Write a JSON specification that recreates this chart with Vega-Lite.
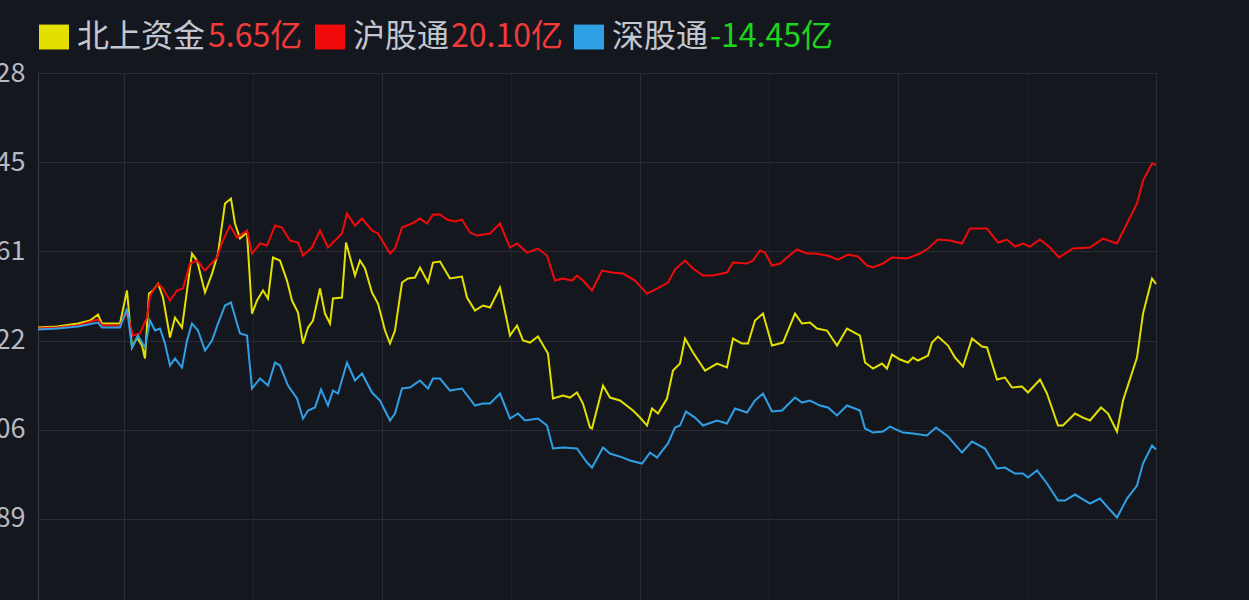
{
  "$schema": "https://vega.github.io/schema/vega-lite/v6.json",
  "width": 1118,
  "height": 527,
  "autosize": {"type": "none"},
  "padding": {"left": 38, "top": 73, "right": 93, "bottom": 0},
  "background": "#15171f",
  "config": {"view": {"stroke": null}, "font": "Noto Sans CJK SC"},
  "datasets": {
    "legend": [
      {"k": 0, "name": "北上资金", "label": "5.65亿", "val": 5.65},
      {"k": 1, "name": "沪股通", "label": "20.10亿", "val": 20.10},
      {"k": 2, "name": "深股通", "label": "-14.45亿", "val": -14.45}
    ],
    "flow": [
      {"s":"北上资金","t":0,"v":0.36},{"s":"北上资金","t":4.42,"v":0.49},{"s":"北上资金","t":9.3,"v":0.85},{"s":"北上资金","t":12.09,"v":1.21},
      {"s":"北上资金","t":13.95,"v":1.94},{"s":"北上资金","t":14.88,"v":0.85},{"s":"北上资金","t":19.07,"v":0.85},{"s":"北上资金","t":20.7,"v":4.86},
      {"s":"北上资金","t":21.86,"v":-2.06},{"s":"北上资金","t":23.02,"v":-0.85},{"s":"北上资金","t":24.19,"v":-1.82},{"s":"北上资金","t":24.88,"v":-3.4},
      {"s":"北上资金","t":25.81,"v":4.49},{"s":"北上资金","t":26.74,"v":4.86},{"s":"北上资金","t":27.91,"v":5.71},{"s":"北上资金","t":29.07,"v":4.01},
      {"s":"北上资金","t":30.7,"v":-0.85},{"s":"北上资金","t":31.86,"v":1.58},{"s":"北上资金","t":33.49,"v":0.36},{"s":"北上资金","t":34.65,"v":4.86},
      {"s":"北上资金","t":35.81,"v":9.35},{"s":"北上资金","t":36.98,"v":8.5},{"s":"北上资金","t":38.84,"v":4.62},{"s":"北上资金","t":40.47,"v":6.92},
      {"s":"北上资金","t":41.86,"v":9.35},{"s":"北上资金","t":43.49,"v":15.43},{"s":"北上资金","t":44.88,"v":16.03},{"s":"北上资金","t":45.81,"v":13.0},
      {"s":"北上资金","t":46.98,"v":11.17},{"s":"北上资金","t":48.6,"v":11.9},{"s":"北上资金","t":49.77,"v":2.06},{"s":"北上资金","t":50.93,"v":3.64},
      {"s":"北上资金","t":52.33,"v":4.86},{"s":"北上资金","t":53.49,"v":3.89},{"s":"北上资金","t":54.65,"v":8.87},{"s":"北上资金","t":56.28,"v":8.5},
      {"s":"北上资金","t":57.91,"v":6.07},{"s":"北上资金","t":59.07,"v":3.64},{"s":"北上资金","t":60.47,"v":2.19},{"s":"北上资金","t":61.63,"v":-1.58},
      {"s":"北上资金","t":62.79,"v":0.36},{"s":"北上资金","t":63.95,"v":1.21},{"s":"北上资金","t":65.58,"v":5.1},{"s":"北上资金","t":66.74,"v":2.06},
      {"s":"北上资金","t":67.91,"v":0.85},{"s":"北上资金","t":68.6,"v":3.89},{"s":"北上资金","t":70.7,"v":4.01},{"s":"北上资金","t":71.63,"v":10.69},
      {"s":"北上资金","t":73.72,"v":6.68},{"s":"北上资金","t":74.88,"v":8.5},{"s":"北上资金","t":76.05,"v":7.53},{"s":"北上资金","t":77.67,"v":4.62},
      {"s":"北上资金","t":79.07,"v":3.28},{"s":"北上资金","t":80.7,"v":0},{"s":"北上资金","t":81.86,"v":-1.58},{"s":"北上资金","t":83.02,"v":0},
      {"s":"北上资金","t":84.65,"v":5.83},{"s":"北上资金","t":86.05,"v":6.32},{"s":"北上资金","t":87.67,"v":6.44},{"s":"北上资金","t":88.84,"v":7.65},
      {"s":"北上资金","t":90.7,"v":5.83},{"s":"北上资金","t":91.86,"v":8.26},{"s":"北上资金","t":93.49,"v":8.38},{"s":"北上资金","t":95.81,"v":6.32},
      {"s":"北上资金","t":98.6,"v":6.56},{"s":"北上资金","t":99.77,"v":4.01},{"s":"北上资金","t":101.63,"v":2.43},{"s":"北上资金","t":103.49,"v":3.04},
      {"s":"北上资金","t":105.12,"v":2.79},{"s":"北上资金","t":107.44,"v":5.22},{"s":"北上资金","t":109.77,"v":-0.61},{"s":"北上资金","t":111.4,"v":0.61},
      {"s":"北上资金","t":112.79,"v":-1.21},{"s":"北上资金","t":114.42,"v":-1.46},{"s":"北上资金","t":116.28,"v":-0.73},{"s":"北上资金","t":118.6,"v":-2.79},
      {"s":"北上资金","t":119.77,"v":-8.26},{"s":"北上资金","t":122.09,"v":-7.89},{"s":"北上资金","t":123.72,"v":-8.14},{"s":"北上资金","t":125.35,"v":-7.53},
      {"s":"北上资金","t":126.74,"v":-8.87},{"s":"北上资金","t":128.37,"v":-11.78},{"s":"北上资金","t":128.84,"v":-11.9},{"s":"北上资金","t":131.4,"v":-6.68},
      {"s":"北上资金","t":133.02,"v":-8.14},{"s":"北上资金","t":135.35,"v":-8.5},{"s":"北上资金","t":138.37,"v":-9.72},{"s":"北上资金","t":140,"v":-10.57},
      {"s":"北上资金","t":141.63,"v":-11.54},{"s":"北上资金","t":142.79,"v":-9.47},{"s":"北上资金","t":144.19,"v":-10.08},{"s":"北上资金","t":146.28,"v":-8.26},
      {"s":"北上资金","t":147.67,"v":-4.86},{"s":"北上资金","t":149.3,"v":-4.01},{"s":"北上资金","t":150.47,"v":-0.97},{"s":"北上资金","t":152.33,"v":-2.67},
      {"s":"北上资金","t":155.12,"v":-4.86},{"s":"北上资金","t":157.91,"v":-4.01},{"s":"北上资金","t":160.23,"v":-4.49},{"s":"北上资金","t":161.63,"v":-0.97},
      {"s":"北上资金","t":163.72,"v":-1.58},{"s":"北上资金","t":165.12,"v":-1.58},{"s":"北上资金","t":166.74,"v":1.21},{"s":"北上资金","t":168.6,"v":2.06},
      {"s":"北上资金","t":170.7,"v":-1.82},{"s":"北上资金","t":173.26,"v":-1.46},{"s":"北上资金","t":176.05,"v":2.06},{"s":"北上资金","t":177.67,"v":0.85},
      {"s":"北上资金","t":179.53,"v":0.97},{"s":"北上资金","t":181.16,"v":0.24},{"s":"北上资金","t":183.49,"v":0},{"s":"北上资金","t":185.81,"v":-1.82},
      {"s":"北上资金","t":188.14,"v":0.24},{"s":"北上资金","t":191.16,"v":-0.61},{"s":"北上资金","t":192.33,"v":-3.89},{"s":"北上资金","t":194.19,"v":-4.62},
      {"s":"北上资金","t":196.28,"v":-4.01},{"s":"北上资金","t":197.44,"v":-4.62},{"s":"北上资金","t":198.6,"v":-2.92},{"s":"北上资金","t":200.47,"v":-3.52},
      {"s":"北上资金","t":202.33,"v":-3.89},{"s":"北上资金","t":203.49,"v":-3.28},{"s":"北上资金","t":204.65,"v":-3.64},{"s":"北上资金","t":206.98,"v":-3.04},
      {"s":"北上资金","t":207.91,"v":-1.46},{"s":"北上资金","t":209.3,"v":-0.73},{"s":"北上资金","t":211.63,"v":-1.82},{"s":"北上资金","t":213.26,"v":-3.28},
      {"s":"北上资金","t":215.12,"v":-4.37},{"s":"北上资金","t":217.21,"v":-0.97},{"s":"北上资金","t":219.53,"v":-1.94},{"s":"北上资金","t":220.7,"v":-2.06},
      {"s":"北上资金","t":223.02,"v":-5.95},{"s":"北上资金","t":224.88,"v":-5.71},{"s":"北上资金","t":226.51,"v":-6.92},{"s":"北上资金","t":228.84,"v":-6.8},
      {"s":"北上资金","t":230.23,"v":-7.53},{"s":"北上资金","t":233.02,"v":-5.95},{"s":"北上资金","t":234.65,"v":-7.65},{"s":"北上资金","t":237.21,"v":-11.54},
      {"s":"北上资金","t":238.37,"v":-11.54},{"s":"北上资金","t":241.16,"v":-10.08},{"s":"北上资金","t":243.02,"v":-10.57},{"s":"北上资金","t":244.65,"v":-10.93},
      {"s":"北上资金","t":247.21,"v":-9.35},{"s":"北上资金","t":248.84,"v":-10.08},{"s":"北上资金","t":250.93,"v":-12.27},{"s":"北上资金","t":252.33,"v":-8.5},
      {"s":"北上资金","t":255.58,"v":-3.28},{"s":"北上资金","t":256.98,"v":2.06},{"s":"北上资金","t":259.07,"v":6.32},{"s":"北上资金","t":260,"v":5.65},

      {"s":"沪股通","t":0,"v":0.24},{"s":"沪股通","t":4.42,"v":0.36},{"s":"沪股通","t":9.3,"v":0.61},{"s":"沪股通","t":13.95,"v":1.34},
      {"s":"沪股通","t":14.88,"v":0.61},{"s":"沪股通","t":19.07,"v":0.61},{"s":"沪股通","t":20.7,"v":2.19},{"s":"沪股通","t":22.09,"v":-0.61},
      {"s":"沪股通","t":23.72,"v":-0.36},{"s":"沪股通","t":25.35,"v":1.58},{"s":"沪股通","t":26.05,"v":4.25},{"s":"沪股通","t":27.91,"v":5.71},
      {"s":"沪股通","t":29.07,"v":5.1},{"s":"沪股通","t":30.7,"v":3.64},{"s":"沪股通","t":32.33,"v":4.86},{"s":"沪股通","t":33.72,"v":5.1},
      {"s":"沪股通","t":35.35,"v":8.14},{"s":"沪股通","t":36.98,"v":8.5},{"s":"沪股通","t":38.84,"v":7.29},{"s":"沪股通","t":41.63,"v":8.87},
      {"s":"沪股通","t":42.79,"v":10.69},{"s":"沪股通","t":44.65,"v":12.75},{"s":"沪股通","t":46.28,"v":11.3},{"s":"沪股通","t":48.6,"v":12.15},
      {"s":"沪股通","t":49.77,"v":9.35},{"s":"沪股通","t":51.63,"v":10.57},{"s":"沪股通","t":53.26,"v":10.32},{"s":"沪股通","t":55.12,"v":12.75},
      {"s":"沪股通","t":56.74,"v":12.51},{"s":"沪股通","t":58.6,"v":10.93},{"s":"沪股通","t":60.47,"v":10.69},{"s":"沪股通","t":61.63,"v":9.11},
      {"s":"沪股通","t":63.72,"v":10.08},{"s":"沪股通","t":65.58,"v":12.15},{"s":"沪股通","t":67.44,"v":10.08},{"s":"沪股通","t":69.07,"v":10.93},
      {"s":"沪股通","t":70.7,"v":11.78},{"s":"沪股通","t":71.86,"v":14.21},{"s":"沪股通","t":73.72,"v":12.75},{"s":"沪股通","t":75.35,"v":13.6},
      {"s":"沪股通","t":77.67,"v":12.15},{"s":"沪股通","t":79.07,"v":11.78},{"s":"沪股通","t":81.86,"v":9.35},{"s":"沪股通","t":83.02,"v":9.96},
      {"s":"沪股通","t":84.65,"v":12.51},{"s":"沪股通","t":86.98,"v":13.0},{"s":"沪股通","t":88.84,"v":13.6},{"s":"沪股通","t":90.47,"v":13.0},
      {"s":"沪股通","t":91.86,"v":14.09},{"s":"沪股通","t":93.49,"v":14.09},{"s":"沪股通","t":95.12,"v":13.48},{"s":"沪股通","t":96.98,"v":13.24},
      {"s":"沪股通","t":98.6,"v":13.48},{"s":"沪股通","t":100.47,"v":11.9},{"s":"沪股通","t":102.09,"v":11.54},{"s":"沪股通","t":105.12,"v":11.78},
      {"s":"沪股通","t":107.44,"v":13.0},{"s":"沪股通","t":109.77,"v":10.08},{"s":"沪股通","t":111.4,"v":10.57},{"s":"沪股通","t":113.72,"v":9.47},
      {"s":"沪股通","t":116.28,"v":9.96},{"s":"沪股通","t":118.37,"v":9.11},{"s":"沪股通","t":120.23,"v":6.07},{"s":"沪股通","t":122.09,"v":6.32},
      {"s":"沪股通","t":124.19,"v":6.07},{"s":"沪股通","t":125.35,"v":6.68},{"s":"沪股通","t":126.74,"v":6.07},{"s":"沪股通","t":128.84,"v":4.86},
      {"s":"沪股通","t":131.16,"v":7.29},{"s":"沪股通","t":133.49,"v":7.04},{"s":"沪股通","t":136.05,"v":6.92},{"s":"沪股通","t":138.84,"v":6.07},
      {"s":"沪股通","t":141.63,"v":4.49},{"s":"沪股通","t":143.95,"v":5.1},{"s":"沪股通","t":146.51,"v":5.83},{"s":"沪股通","t":148.14,"v":7.41},
      {"s":"沪股通","t":150.47,"v":8.5},{"s":"沪股通","t":152.33,"v":7.53},{"s":"沪股通","t":154.65,"v":6.68},{"s":"沪股通","t":156.98,"v":6.68},
      {"s":"沪股通","t":160.23,"v":7.04},{"s":"沪股通","t":161.63,"v":8.26},{"s":"沪股通","t":164.88,"v":8.14},{"s":"沪股通","t":166.28,"v":8.5},
      {"s":"沪股通","t":167.91,"v":9.72},{"s":"沪股通","t":169.07,"v":9.47},{"s":"沪股通","t":170.7,"v":7.89},{"s":"沪股通","t":172.56,"v":8.14},
      {"s":"沪股通","t":174.19,"v":8.87},{"s":"沪股通","t":176.51,"v":9.84},{"s":"沪股通","t":178.84,"v":9.35},{"s":"沪股通","t":180.7,"v":9.35},
      {"s":"沪股通","t":183.49,"v":9.11},{"s":"沪股通","t":186.05,"v":8.62},{"s":"沪股通","t":188.37,"v":9.23},{"s":"沪股通","t":190.7,"v":8.99},
      {"s":"沪股通","t":192.79,"v":7.89},{"s":"沪股通","t":194.19,"v":7.65},{"s":"沪股通","t":196.51,"v":8.14},{"s":"沪股通","t":198.6,"v":8.87},
      {"s":"沪股通","t":202.09,"v":8.75},{"s":"沪股通","t":205.12,"v":9.35},{"s":"沪股通","t":206.98,"v":9.96},{"s":"沪股通","t":209.3,"v":11.05},
      {"s":"沪股通","t":212.09,"v":10.93},{"s":"沪股通","t":214.88,"v":10.57},{"s":"沪股通","t":216.74,"v":12.39},{"s":"沪股通","t":220.7,"v":12.39},
      {"s":"沪股通","t":223.26,"v":10.69},{"s":"沪股通","t":225.35,"v":11.05},{"s":"沪股通","t":227.21,"v":10.2},{"s":"沪股通","t":229.07,"v":10.57},
      {"s":"沪股通","t":230.7,"v":10.2},{"s":"沪股通","t":233.02,"v":11.05},{"s":"沪股通","t":235.35,"v":10.08},{"s":"沪股通","t":237.44,"v":8.87},
      {"s":"沪股通","t":240.7,"v":9.96},{"s":"沪股通","t":244.65,"v":10.08},{"s":"沪股通","t":247.67,"v":11.17},{"s":"沪股通","t":250.93,"v":10.57},
      {"s":"沪股通","t":253.26,"v":13.0},{"s":"沪股通","t":255.58,"v":15.43},{"s":"沪股通","t":256.98,"v":18.22},{"s":"沪股通","t":259.07,"v":20.28},
      {"s":"沪股通","t":260,"v":20.1},

      {"s":"深股通","t":0,"v":0.12},{"s":"深股通","t":4.42,"v":0.24},{"s":"深股通","t":9.3,"v":0.49},{"s":"深股通","t":13.95,"v":0.97},
      {"s":"深股通","t":14.88,"v":0.36},{"s":"深股通","t":19.07,"v":0.36},{"s":"深股通","t":20.7,"v":2.67},{"s":"深股通","t":21.86,"v":-2.06},
      {"s":"深股通","t":23.26,"v":-0.61},{"s":"深股通","t":24.88,"v":-2.06},{"s":"深股通","t":26.05,"v":1.21},{"s":"深股通","t":27.21,"v":0},
      {"s":"深股通","t":28.37,"v":0.24},{"s":"深股通","t":29.53,"v":-1.58},{"s":"深股通","t":30.7,"v":-4.25},{"s":"深股通","t":31.86,"v":-3.4},
      {"s":"深股通","t":33.49,"v":-4.49},{"s":"深股通","t":34.65,"v":-1.21},{"s":"深股通","t":35.81,"v":0.85},{"s":"深股通","t":37.21,"v":0},
      {"s":"深股通","t":38.84,"v":-2.43},{"s":"深股通","t":40.47,"v":-1.21},{"s":"深股通","t":41.86,"v":0.85},{"s":"深股通","t":43.49,"v":3.04},
      {"s":"深股通","t":44.88,"v":3.4},{"s":"深股通","t":46.28,"v":0.85},{"s":"深股通","t":46.98,"v":-0.36},{"s":"深股通","t":48.6,"v":-0.61},
      {"s":"深股通","t":49.77,"v":-7.04},{"s":"深股通","t":51.63,"v":-5.83},{"s":"深股通","t":53.49,"v":-6.68},{"s":"深股通","t":55.12,"v":-3.89},
      {"s":"深股通","t":56.28,"v":-4.25},{"s":"深股通","t":58.14,"v":-6.68},{"s":"深股通","t":60.23,"v":-8.26},{"s":"深股通","t":61.63,"v":-10.69},
      {"s":"深股通","t":62.79,"v":-9.72},{"s":"深股通","t":64.42,"v":-9.35},{"s":"深股通","t":65.81,"v":-7.17},{"s":"深股通","t":67.44,"v":-9.11},
      {"s":"深股通","t":68.6,"v":-7.29},{"s":"深股通","t":69.77,"v":-7.65},{"s":"深股通","t":71.86,"v":-3.89},{"s":"深股通","t":73.72,"v":-6.07},
      {"s":"深股通","t":75.35,"v":-5.22},{"s":"深股通","t":77.67,"v":-7.53},{"s":"深股通","t":79.53,"v":-8.5},{"s":"深股通","t":81.86,"v":-10.93},
      {"s":"深股通","t":83.02,"v":-10.08},{"s":"深股通","t":84.65,"v":-7.04},{"s":"深股通","t":86.51,"v":-6.92},{"s":"深股通","t":88.84,"v":-6.07},
      {"s":"深股通","t":90.7,"v":-7.04},{"s":"深股通","t":91.86,"v":-5.83},{"s":"深股通","t":93.49,"v":-5.83},{"s":"深股通","t":95.81,"v":-7.29},
      {"s":"深股通","t":98.6,"v":-7.04},{"s":"深股通","t":101.63,"v":-9.11},{"s":"深股通","t":103.49,"v":-8.87},{"s":"深股通","t":105.12,"v":-8.87},
      {"s":"深股通","t":107.44,"v":-7.65},{"s":"深股通","t":109.77,"v":-10.69},{"s":"深股通","t":111.63,"v":-10.08},{"s":"深股通","t":113.26,"v":-10.93},
      {"s":"深股通","t":116.28,"v":-10.69},{"s":"深股通","t":118.37,"v":-11.54},{"s":"深股通","t":119.77,"v":-14.33},{"s":"深股通","t":122.09,"v":-14.21},
      {"s":"深股通","t":125.35,"v":-14.33},{"s":"深股通","t":127.67,"v":-16.03},{"s":"深股通","t":128.84,"v":-16.64},{"s":"深股通","t":131.4,"v":-14.21},
      {"s":"深股通","t":133.02,"v":-14.94},{"s":"深股通","t":136.05,"v":-15.43},{"s":"深股通","t":137.67,"v":-15.79},{"s":"深股通","t":140.47,"v":-16.15},
      {"s":"深股通","t":142.33,"v":-14.82},{"s":"深股通","t":143.95,"v":-15.43},{"s":"深股通","t":146.51,"v":-13.72},{"s":"深股通","t":148.14,"v":-11.78},
      {"s":"深股通","t":149.3,"v":-11.54},{"s":"深股通","t":150.7,"v":-9.84},{"s":"深股通","t":152.79,"v":-10.57},{"s":"深股通","t":154.65,"v":-11.54},
      {"s":"深股通","t":157.91,"v":-10.93},{"s":"深股通","t":160.23,"v":-11.3},{"s":"深股通","t":162.09,"v":-9.47},{"s":"深股通","t":164.88,"v":-9.96},
      {"s":"深股通","t":166.74,"v":-8.5},{"s":"深股通","t":168.6,"v":-7.65},{"s":"深股通","t":170.7,"v":-9.84},{"s":"深股通","t":173.02,"v":-9.72},
      {"s":"深股通","t":176.05,"v":-8.14},{"s":"深股通","t":177.67,"v":-8.75},{"s":"深股通","t":179.53,"v":-8.5},{"s":"深股通","t":181.86,"v":-9.11},
      {"s":"深股通","t":183.72,"v":-9.35},{"s":"深股通","t":185.81,"v":-10.32},{"s":"深股通","t":188.14,"v":-9.11},{"s":"深股通","t":191.16,"v":-9.72},
      {"s":"深股通","t":192.33,"v":-11.9},{"s":"深股通","t":194.19,"v":-12.39},{"s":"深股通","t":196.51,"v":-12.27},{"s":"深股通","t":198.14,"v":-11.66},
      {"s":"深股通","t":201.16,"v":-12.39},{"s":"深股通","t":203.49,"v":-12.51},{"s":"深股通","t":206.74,"v":-12.75},{"s":"深股通","t":208.84,"v":-11.78},
      {"s":"深股通","t":211.63,"v":-12.87},{"s":"深股通","t":214.88,"v":-14.82},{"s":"深股通","t":217.21,"v":-13.48},{"s":"深股通","t":220.23,"v":-14.33},
      {"s":"深股通","t":223.02,"v":-16.76},{"s":"深股通","t":224.88,"v":-16.64},{"s":"深股通","t":227.21,"v":-17.37},{"s":"深股通","t":229.07,"v":-17.37},
      {"s":"深股通","t":230.23,"v":-17.85},{"s":"深股通","t":232.33,"v":-17.0},{"s":"深股通","t":234.65,"v":-18.58},{"s":"深股通","t":237.21,"v":-20.65},
      {"s":"深股通","t":238.84,"v":-20.65},{"s":"深股通","t":241.16,"v":-19.92},{"s":"深股通","t":244.65,"v":-21.01},{"s":"深股通","t":246.98,"v":-20.41},
      {"s":"深股通","t":248.84,"v":-21.5},{"s":"深股通","t":250.93,"v":-22.71},{"s":"深股通","t":253.26,"v":-20.41},{"s":"深股通","t":255.58,"v":-18.83},
      {"s":"深股通","t":256.98,"v":-16.15},{"s":"深股通","t":259.07,"v":-13.97},{"s":"深股通","t":260,"v":-14.45}
    ]
  },
  "layer": [
    {
      "data": {"name": "flow"},
      "mark": {"type": "line", "strokeWidth": 2},
      "encoding": {
        "x": {
          "field": "t",
          "type": "quantitative",
          "scale": {"domain": [0, 260], "nice": false, "zero": false},
          "axis": {
            "values": [20, 50, 80, 110, 140, 170, 200, 230, 260],
            "grid": true,
            "gridColor": "#2b2c31",
            "gridDash": {"condition": {"test": "datum.value == 50 || datum.value == 110 || datum.value == 170 || datum.value == 230", "value": [2, 2]}, "value": []},
            "labels": false,
            "ticks": false,
            "domain": false,
            "title": null
          }
        },
        "y": {
          "field": "v",
          "type": "quantitative",
          "scale": {"domain": [-32.73, 31.28], "nice": false, "zero": false},
          "axis": {
            "values": [31.28, 20.45, 9.61, -1.22, -12.06, -22.89],
            "format": ".2f",
            "grid": true,
            "gridColor": "#2b2c31",
            "domain": true,
            "domainColor": "#3a3b40",
            "ticks": false,
            "labelPadding": 13,
            "labelFontSize": 27,
            "labelColor": "#b6bac2",
            "labelFont": "Noto Sans CJK SC",
            "labelOverlap": false,
            "labelBaseline": "middle",
            "title": null
          }
        },
        "color": {
          "field": "s",
          "type": "nominal",
          "scale": {"domain": ["北上资金", "沪股通", "深股通"], "range": ["#e3e000", "#f00a0a", "#2f9fe6"]},
          "legend": null
        }
      }
    },
    {
      "data": {"name": "legend"},
      "mark": {"type": "point", "shape": "M-1,-0.83H1V0.83H-1Z", "filled": true, "size": 900, "opacity": 1},
      "encoding": {
        "x": {"field": "k", "type": "quantitative", "scale": {"domain": [0, 1, 2], "range": [16, 292, 551]}, "axis": null},
        "y": {"datum": 35.65, "title": null},
        "color": {"field": "name", "type": "nominal", "legend": null}
      }
    },
    {
      "data": {"name": "legend"},
      "mark": {"type": "text", "align": "left", "baseline": "middle", "dx": 23, "fontSize": 32, "font": "Noto Sans CJK SC", "color": "#c3c7cf"},
      "encoding": {
        "x": {"field": "k", "type": "quantitative", "scale": {"domain": [0, 1, 2], "range": [16, 292, 551]}, "axis": null},
        "y": {"datum": 35.65, "title": null},
        "text": {"field": "name"}
      }
    },
    {
      "data": {"name": "legend"},
      "transform": [{"filter": "datum.k == 0"}],
      "mark": {"type": "text", "align": "left", "baseline": "middle", "dx": 154, "fontSize": 32, "font": "Noto Sans CJK SC"},
      "encoding": {
        "x": {"field": "k", "type": "quantitative", "scale": {"domain": [0, 1, 2], "range": [16, 292, 551]}, "axis": null},
        "y": {"datum": 35.65, "title": null},
        "text": {"field": "label"},
        "color": {"condition": {"test": "datum.val < 0", "value": "#1ed21e"}, "value": "#f23a3a"}
      }
    },
    {
      "data": {"name": "legend"},
      "transform": [{"filter": "datum.k > 0"}],
      "mark": {"type": "text", "align": "left", "baseline": "middle", "dx": 121, "fontSize": 32, "font": "Noto Sans CJK SC"},
      "encoding": {
        "x": {"field": "k", "type": "quantitative", "scale": {"domain": [0, 1, 2], "range": [16, 292, 551]}, "axis": null},
        "y": {"datum": 35.65, "title": null},
        "text": {"field": "label"},
        "color": {"condition": {"test": "datum.val < 0", "value": "#1ed21e"}, "value": "#f23a3a"}
      }
    }
  ],
  "resolve": {"scale": {"x": "independent"}}
}
